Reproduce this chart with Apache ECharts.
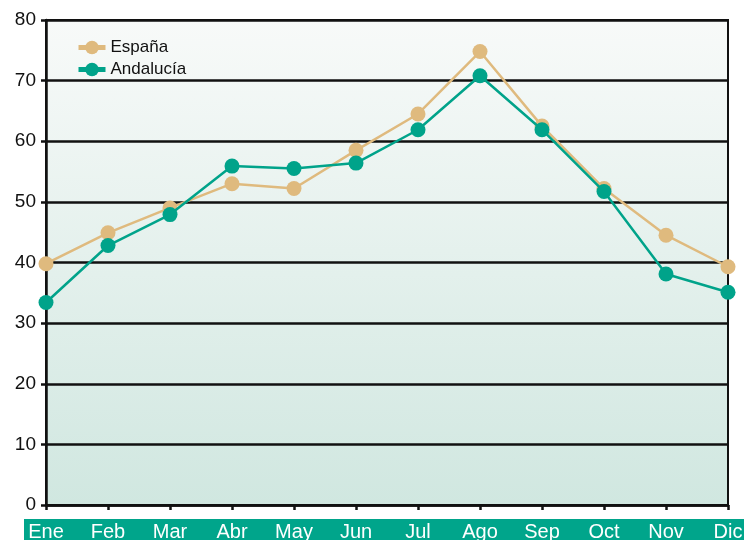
<!DOCTYPE html>
<html>
<head>
<meta charset="utf-8">
<script src="https://cdn.jsdelivr.net/npm/echarts@6/dist/echarts.min.js"></script>
<style>html,body{margin:0;padding:0;background:#fff;}#c{width:744px;height:540px;}</style>
</head>
<body>
<div id="c"></div>
<script>
const months = ['Ene','Feb','Mar','Abr','May','Jun','Jul','Ago','Sep','Oct','Nov','Dic'];
const espana = [39.8, 44.9, 49.0, 53.0, 52.2, 58.5, 64.5, 74.8, 62.5, 52.2, 44.5, 39.3];
const andalucia = [33.4, 42.8, 47.9, 55.9, 55.5, 56.4, 61.9, 70.8, 61.9, 51.7, 38.1, 35.1];
const yTicks = [0, 10, 20, 30, 40, 50, 60, 70, 80];

const chart = echarts.init(document.getElementById('c'), null, {renderer: 'canvas'});
const font = '"Liberation Sans", Arial, sans-serif';
chart.setOption({
  animation: false,
  backgroundColor: '#ffffff',
  graphic: [{
    type: 'rect', z: -1,
    shape: {x: 24, y: 519, width: 720, height: 21},
    style: {fill: '#00a58b'}
  }],
  legend: {
    left: 71, top: 34, orient: 'vertical',
    itemWidth: 27, itemHeight: 17, itemGap: 5,
    lineStyle: {width: 5},
    textStyle: {fontFamily: font, fontSize: 17, color: '#111'},
    data: ['España', 'Andalucía']
  },
  grid: {
    left: 46, right: 16, top: 20, bottom: 35,
    outerBoundsMode: 'none', containLabel: false,
    show: true,
    borderColor: '#111', borderWidth: 2,
    backgroundColor: {
      type: 'linear', x: 0, y: 0, x2: 0, y2: 1,
      colorStops: [{offset: 0, color: '#f8faf9'}, {offset: 1, color: '#d0e7e0'}]
    }
  },
  xAxis: {
    type: 'category', data: months, boundaryGap: false,
    axisLine: {lineStyle: {color: '#111', width: 2.5}},
    axisTick: {show: true, length: 5, lineStyle: {color: '#111', width: 2.5}},
    axisLabel: {fontFamily: font, fontSize: 20, color: '#ffffff', margin: 17, interval: 0},
    splitLine: {show: false}
  },
  yAxis: {
    type: 'value', min: 0, max: 80, interval: 10,
    axisLine: {show: true, lineStyle: {color: '#111', width: 2.5}},
    axisTick: {show: true, length: 5, lineStyle: {color: '#111', width: 2.5}},
    axisLabel: {fontFamily: font, fontSize: 19, color: '#111', margin: 10,
      formatter: v => yTicks.includes(v) ? String(v) : ''},
    splitLine: {show: true, lineStyle: {color: '#111', width: 2.5}}
  },
  series: [{
    name: 'España', type: 'line', data: espana,
    symbol: 'circle', symbolSize: 15,
    lineStyle: {color: '#dfba7e', width: 2.5},
    itemStyle: {color: '#dfba7e'}, z: 2
  }, {
    name: 'Andalucía', type: 'line', data: andalucia,
    symbol: 'circle', symbolSize: 15,
    lineStyle: {color: '#00a38a', width: 2.5},
    itemStyle: {color: '#00a38a'}, z: 3
  }]
});
</script>
</body>
</html>
